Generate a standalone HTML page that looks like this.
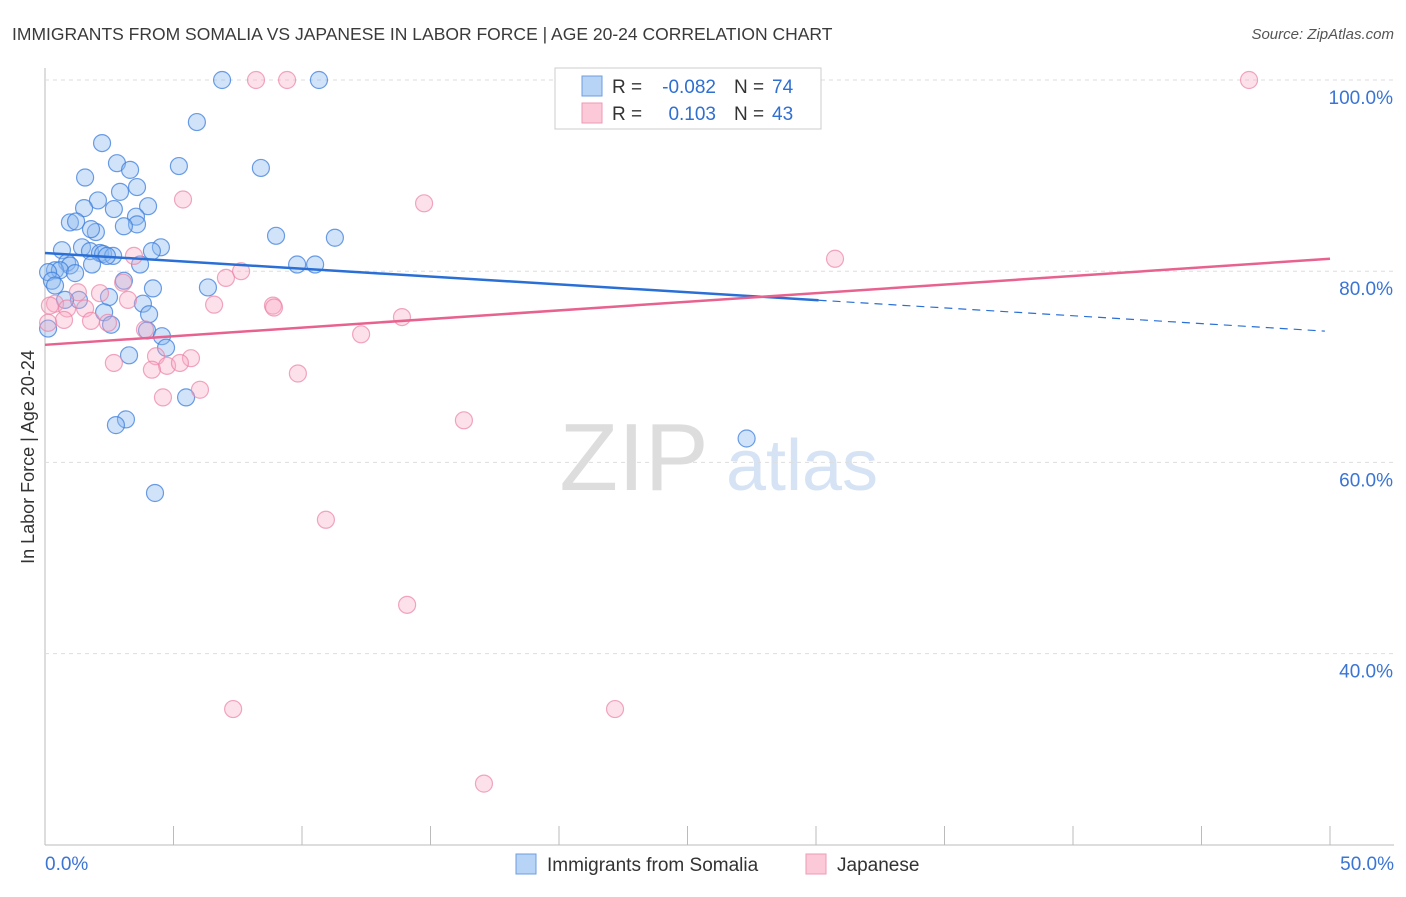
<!DOCTYPE html>
<html><head><meta charset="utf-8"><style>
body{margin:0;background:#fff;font-family:"Liberation Sans",sans-serif}
svg text{font-family:"Liberation Sans",sans-serif}
</style></head><body>
<svg id="c" width="1406" height="892">
<text x="12" y="40" font-size="17.5" fill="#3a3a3a">IMMIGRANTS FROM SOMALIA VS JAPANESE IN LABOR FORCE | AGE 20-24 CORRELATION CHART</text>
<text x="1394" y="39" font-size="15" fill="#555" text-anchor="end" font-style="italic">Source: ZipAtlas.com</text>
<text x="634" y="490" font-size="96" fill="#ddd" font-family="Liberation Serif" text-anchor="middle">ZIP</text>
<text x="802" y="490" font-size="72" fill="#d6e3f5" text-anchor="middle">atlas</text>
<text transform="translate(34,457) rotate(-90)" font-size="18" fill="#333" text-anchor="middle">In Labor Force | Age 20-24</text>
<g id="grid"></g><g id="pts"></g><g id="lines"></g>
<g>
<rect x="555" y="68" width="266" height="61" fill="#fff" stroke="#ccc"/>
<rect x="582" y="76" width="20" height="20" fill="#b7d3f5" stroke="#6d9de0"/>
<rect x="582" y="103" width="20" height="20" fill="#fbc9d8" stroke="#ee9ab5"/>
<text x="612" y="93" font-size="19" fill="#333">R =</text>
<text x="716" y="93" font-size="19" fill="#2f6fd1" text-anchor="end">-0.082</text>
<text x="734" y="93" font-size="19" fill="#333">N =</text>
<text x="772" y="93" font-size="19" fill="#2f6fd1">74</text>
<text x="612" y="120" font-size="19" fill="#333">R =</text>
<text x="716" y="120" font-size="19" fill="#2f6fd1" text-anchor="end">0.103</text>
<text x="734" y="120" font-size="19" fill="#333">N =</text>
<text x="772" y="120" font-size="19" fill="#2f6fd1">43</text>
</g>
<g>
<rect x="516" y="854" width="20" height="20" fill="#b7d3f5" stroke="#6d9de0"/>
<text x="547" y="871" font-size="19" fill="#333">Immigrants from Somalia</text>
<rect x="806" y="854" width="20" height="20" fill="#fbc9d8" stroke="#ee9ab5"/>
<text x="837" y="871" font-size="19" fill="#333">Japanese</text>
</g>
</svg>
<script>
const xTicks=[0,5,10,15,20,25,30,35,40,45,50];
const yTicks=[40,60,80,100];
const blueX=[6.89,10.66,5.91,2.22,5.21,2.80,3.31,8.40,1.56,2.92,3.58,2.06,4.01,1.52,2.68,0.97,1.21,3.54,3.58,3.07,1.98,1.79,8.99,11.28,1.44,0.66,4.51,4.16,1.75,2.14,2.26,2.65,2.41,0.86,0.97,1.83,3.70,9.81,10.51,0.39,0.58,0.12,1.17,0.27,3.07,4.20,6.34,2.49,1.32,3.81,2.30,4.05,3.97,2.57,4.55,4.71,0.12,3.27,5.49,3.15,2.76,27.3,4.28,0.39,0.78];
const blueY=[100,100,95.6,93.4,91.0,91.3,90.6,90.8,89.8,88.3,88.8,87.4,86.8,86.6,86.5,85.1,85.2,85.7,84.9,84.7,84.1,84.4,83.7,83.5,82.5,82.2,82.5,82.1,82.1,81.9,81.8,81.6,81.6,80.9,80.6,80.7,80.7,80.7,80.7,80.1,80.1,79.9,79.8,79.0,79.0,78.2,78.3,77.3,77.0,76.6,75.7,75.5,73.8,74.4,73.2,72.0,74.0,71.2,66.8,64.5,63.9,62.5,56.8,78.5,77.0];
const pinkX=[20.66,8.21,9.42,23.27,46.85,5.37,14.75,3.46,30.74,7.63,7.04,3.04,2.14,1.28,0.39,0.19,0.86,1.56,3.23,6.58,8.87,8.91,13.89,1.79,0.74,2.45,0.12,3.89,12.30,4.32,5.68,2.68,4.75,5.25,4.16,9.84,6.03,4.59,16.30,10.93,14.09,7.32,22.18,17.08];
const pinkY=[100,100,100,100,100,87.5,87.1,81.6,81.3,80.0,79.3,78.8,77.7,77.8,76.6,76.4,76.1,76.1,77.0,76.5,76.4,76.2,75.2,74.8,74.9,74.6,74.6,73.9,73.4,71.1,70.9,70.4,70.1,70.4,69.7,69.3,67.6,66.8,64.4,54.0,45.1,34.2,34.2,26.4];
const blueTrend=[81.9,73.7];
const pinkTrend=[72.3,81.3];
const blueSolidEnd=30.1;
const X=v=>45+v*25.7, Y=v=>80+(100-v)*9.56;
const NS="http://www.w3.org/2000/svg";
function mk(t,a,p){const e=document.createElementNS(NS,t);for(const k in a)e.setAttribute(k,a[k]);p.appendChild(e);return e;}
const grid=document.getElementById('grid');
mk('line',{x1:45,y1:68,x2:45,y2:845,stroke:'#bbb'},grid);
mk('line',{x1:45,y1:845,x2:1394,y2:845,stroke:'#bbb'},grid);
xTicks.forEach(t=>{const l=mk('line',{x1:X(t),y1:826,x2:X(t),y2:845,stroke:'#bbb'},grid);

});
yTicks.forEach(t=>{const l=mk('line',{x1:45,y1:Y(t),x2:1394,y2:Y(t),stroke:'#ddd','stroke-dasharray':'4,4'},grid);


const tx=mk('text',{x:1393,y:Y(t)+24,'font-size':19,fill:'#3a74d4','text-anchor':'end'},grid);tx.textContent=t.toFixed(1)+'%';

});
[[0,45,'start'],[50,1394,'end']].forEach(([v,x,a])=>{const tx=mk('text',{x:x,y:870,'font-size':19,fill:'#3a74d4','text-anchor':a},grid);tx.textContent=v.toFixed(1)+'%';

});
const pts=document.getElementById('pts');
blueX.forEach((x,i)=>{const c=mk('circle',{cx:X(x),cy:Y(blueY[i]),r:8.5,fill:'rgba(140,185,240,0.4)',stroke:'rgba(60,125,220,0.75)','stroke-width':1.2},pts);

});
pinkX.forEach((x,i)=>{const c=mk('circle',{cx:X(x),cy:Y(pinkY[i]),r:8.5,fill:'rgba(248,170,195,0.35)',stroke:'rgba(235,130,165,0.7)','stroke-width':1.2},pts);

});
const L=document.getElementById('lines');
const bAt=x=>blueTrend[0]+(blueTrend[1]-blueTrend[0])*x/50;
let l=mk('line',{x1:X(0),y1:Y(bAt(0)),x2:X(blueSolidEnd),y2:Y(bAt(blueSolidEnd)),stroke:'#2a6fd6','stroke-width':2.5},L);


l=mk('line',{x1:X(blueSolidEnd),y1:Y(bAt(blueSolidEnd)),x2:X(49.8),y2:Y(bAt(49.8)),stroke:'#2a6fd6','stroke-width':1.2,'stroke-dasharray':'8,6'},L);


l=mk('line',{x1:X(0),y1:Y(pinkTrend[0]),x2:X(50),y2:Y(pinkTrend[1]),stroke:'#e8628f','stroke-width':2.5},L);


</script>
</body></html>
